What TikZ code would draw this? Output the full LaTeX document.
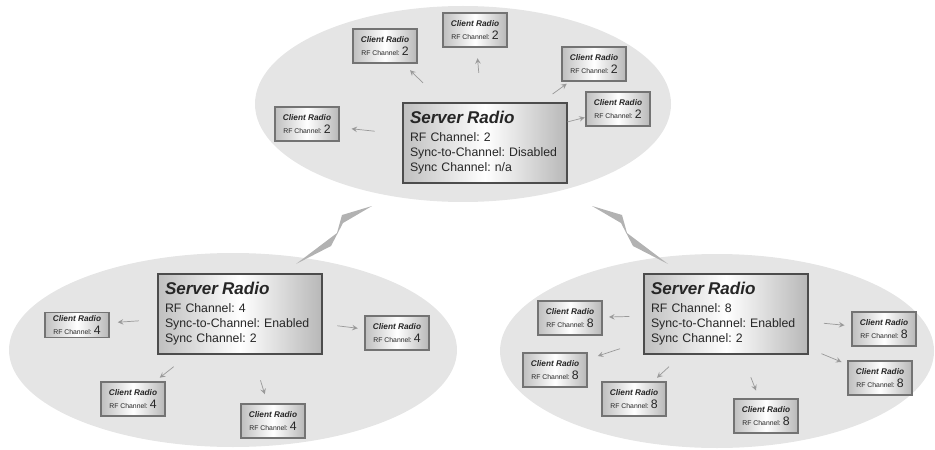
\documentclass[tikz,border=0pt]{standalone}
\usepackage{fontspec}
\setmainfont{Liberation Sans}
\usetikzlibrary{shapes,arrows,calc}
\frenchspacing

\newcommand{\clientlbl}[1]{{\bfseries\itshape Client Radio}\\{\fontsize{3.9}{6}\selectfont RF Channel: }{\fontsize{7}{7}\selectfont #1}}
\newcommand{\serverlbl}[3]{{\fontsize{9.7}{11}\selectfont\bfseries\itshape Server Radio}\\[1.5pt]RF Channel: #1\\Sync-to-Channel: #2\\Sync Channel: #3}

\begin{document}
\begin{tikzpicture}[
    x=0.02cm, y=-0.02cm,
    cell/.style={fill=black!10},
    server/.style={rectangle, draw=black!70, line width=0.8pt, left color=black!25, right color=black!28, middle color=white, text width=3.0cm, inner xsep=0.14cm, minimum height=1.6cm, align=left, font=\fontsize{7}{8.6}\selectfont, text=black!85},
    client/.style={rectangle, draw=black!55, line width=0.6pt, left color=black!25, right color=black!28, middle color=white, minimum width=1.28cm, minimum height=0.68cm, inner sep=1pt, align=center, font=\fontsize{4.7}{7}\selectfont, text=black!85},
    link/.style={->, >=stealth, black!40, line width=0.4pt},
    bolt/.style={fill=black!30}
]
    \useasboundingbox (0,0) rectangle (935,449);

    % the three cells
    \fill[cell] (463,104) ellipse [x radius=208, y radius=98];
    \fill[cell] (233,350) ellipse [x radius=224, y radius=97];
    \fill[cell] (717,351) ellipse [x radius=217, y radius=97];

    % links between the cells
    \fill[bolt] (372,206) -- (342,215) -- (337,233) -- (296,264) -- (331,246) -- (343,223) -- cycle;
    \fill[bolt] (592,206) -- (622,215) -- (627,233) -- (668,264) -- (633,246) -- (621,223) -- cycle;

    % top cell
    \node[server] (sA) at (485,143) {\serverlbl{2}{Disabled}{n/a}};
    \node[client] (cA1) at (385,46) {\clientlbl{2}};
    \node[client] (cA2) at (475,30) {\clientlbl{2}};
    \node[client] (cA3) at (594,64) {\clientlbl{2}};
    \node[client] (cA4) at (618,109) {\clientlbl{2}};
    \node[client] (cA5) at (307,124) {\clientlbl{2}};

    % left cell
    \node[server] (sB) at (240,314) {\serverlbl{4}{Enabled}{2}};
    \node[client, minimum height=0.5cm] (cB1) at (77,325) {\clientlbl{4}};
    \node[client] (cB2) at (397,333) {\clientlbl{4}};
    \node[client] (cB3) at (133,399) {\clientlbl{4}};
    \node[client] (cB4) at (273,421) {\clientlbl{4}};

    % right cell
    \node[server] (sC) at (726,314) {\serverlbl{8}{Enabled}{2}};
    \node[client] (cC1) at (570,318) {\clientlbl{8}};
    \node[client] (cC2) at (555,370) {\clientlbl{8}};
    \node[client] (cC3) at (634,399) {\clientlbl{8}};
    \node[client] (cC4) at (766,416) {\clientlbl{8}};
    \node[client] (cC5) at (884,329) {\clientlbl{8}};
    \node[client] (cC6) at (880,378) {\clientlbl{8}};

    \foreach \c in {cA1,cA2,cA3,cA4,cA5}
        \draw[link] ($(sA)!0.62!(\c)$) -- ($(sA)!0.75!(\c)$);
    \foreach \c in {cB1,cB2,cB3,cB4}
        \draw[link] ($(sB)!0.62!(\c)$) -- ($(sB)!0.75!(\c)$);
    \foreach \c in {cC1,cC2,cC3,cC4,cC5,cC6}
        \draw[link] ($(sC)!0.62!(\c)$) -- ($(sC)!0.75!(\c)$);
\end{tikzpicture}
\end{document}
